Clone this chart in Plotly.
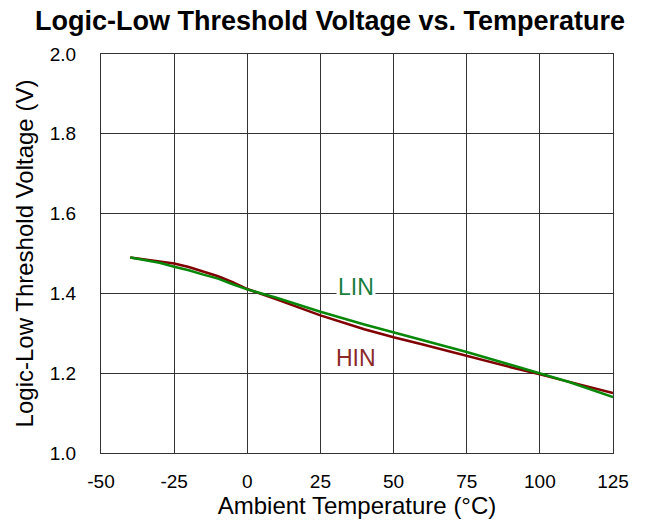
import plotly.graph_objects as go

temps = [-40, -30, -25, -20, -15, -10, -5, 0, 10, 25, 40, 50, 60, 75, 90, 100, 110, 125]
hin_v = [1.490, 1.480, 1.475, 1.466, 1.455, 1.443, 1.428, 1.411, 1.385, 1.345, 1.310, 1.290, 1.272,
         1.243, 1.215, 1.197, 1.178, 1.150]
lin_v = [1.490, 1.477, 1.467, 1.458, 1.447, 1.437, 1.423, 1.410, 1.389, 1.354, 1.322, 1.302, 1.282,
         1.253, 1.221, 1.199, 1.178, 1.140]

x_ticks = [-50, -25, 0, 25, 50, 75, 100, 125]
y_ticks = [1.0, 1.2, 1.4, 1.6, 1.8, 2.0]

HIN_COLOR = "#800000"
LIN_COLOR = "#088808"
FONT = "Liberation Sans, Arial, sans-serif"

fig = go.Figure()
fig.add_trace(go.Scatter(x=temps, y=hin_v, mode="lines", name="HIN",
                         line=dict(color=HIN_COLOR, width=2.5)))
fig.add_trace(go.Scatter(x=temps, y=lin_v, mode="lines", name="LIN",
                         line=dict(color=LIN_COLOR, width=2.5)))

fig.add_annotation(x=37, y=1.4, text="LIN", showarrow=False, yshift=6,
                   font=dict(family=FONT, size=23, color="#1a7f3f"), bgcolor="white")
fig.add_annotation(x=37, y=1.2, text="HIN", showarrow=False, yshift=15,
                   font=dict(family=FONT, size=23, color="#8b2a2a"), bgcolor="white")

axis_common = dict(showgrid=True, gridcolor="#333333", gridwidth=1, showline=True,
                   linecolor="#333333", linewidth=1, mirror=True, zeroline=False,
                   ticks="", tickfont=dict(family=FONT, size=19, color="black"))

fig.update_xaxes(range=[-50, 125], tickvals=x_ticks, ticktext=[str(v) for v in x_ticks],
                 ticklabelstandoff=11,
                 title=dict(text="Ambient Temperature (°C)", font=dict(family=FONT, size=24, color="black"),
                            standoff=2),
                 **axis_common)
fig.update_yaxes(range=[1.0, 2.0], tickvals=y_ticks, ticktext=[f"{v:.1f}" for v in y_ticks],
                 ticklabelstandoff=20,
                 title=dict(text="Logic-Low Threshold Voltage (V)", font=dict(family=FONT, size=24, color="black"),
                            standoff=9),
                 **axis_common)

fig.update_layout(
    width=651, height=531,
    margin=dict(l=101, r=38, t=54, b=78),
    paper_bgcolor="white", plot_bgcolor="white",
    showlegend=False,
    title=dict(text="<b>Logic-Low Threshold Voltage vs. Temperature</b>", x=0.507, xanchor="center",
               y=0.962, yanchor="middle", font=dict(family=FONT, size=27, color="black")),
)

fig.write_html("out.html")
